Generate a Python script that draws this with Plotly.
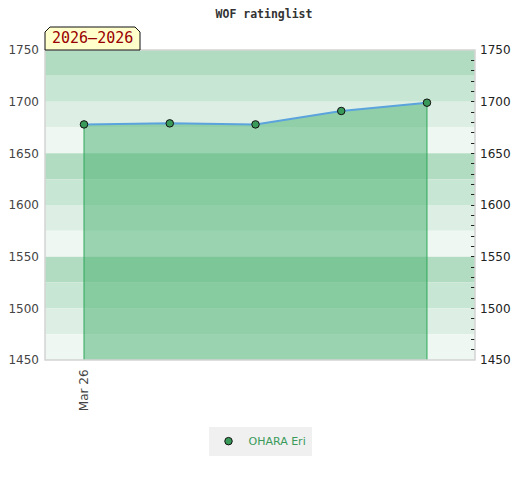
import plotly.graph_objects as go

# Rating history
dates = ["2026-03-26", "2026-03-27", "2026-03-28", "2026-03-29", "2026-03-30"]
ratings = [1678, 1679, 1678, 1691, 1699]
player = "OHARA Eri"
period = "2026–2026"
tick_labels = ["Mar 26"]

y_min, y_max = 1450, 1750
x_idx = list(range(len(dates)))

band_colors = ["#b2dcc2", "#c8e6d4", "#ddeee4", "#eff7f2"]

fig = go.Figure()

# Filled area under the rating line, down to the axis floor.
fig.add_trace(go.Scatter(
    x=[x_idx[0]] + x_idx + [x_idx[-1]],
    y=[y_min] + ratings + [y_min],
    fill="toself",
    fillcolor="rgba(70,176,109,0.5)",
    line=dict(width=0),
    mode="lines",
    hoverinfo="skip",
    showlegend=False,
))

# Vertical edges of the area.
for i in (0, -1):
    fig.add_trace(go.Scatter(
        x=[x_idx[i], x_idx[i]], y=[y_min, ratings[i]],
        mode="lines", line=dict(color="#2ea85a", width=1),
        hoverinfo="skip", showlegend=False,
    ))

# Rating line.
fig.add_trace(go.Scatter(
    x=x_idx, y=ratings, mode="lines",
    line=dict(color="#5ba3dc", width=2),
    hoverinfo="skip", showlegend=False,
))

# Markers (also the legend entry).
fig.add_trace(go.Scatter(
    x=x_idx, y=ratings, mode="markers", name=player,
    marker=dict(color="#3a9a5a", size=7.5, line=dict(color="#111111", width=1)),
))

# Invisible trace so the right axis is drawn.
fig.add_trace(go.Scatter(
    x=x_idx, y=ratings, yaxis="y2", mode="markers",
    marker=dict(opacity=0), hoverinfo="skip", showlegend=False,
))

# Alternating horizontal bands.
shapes = []
for k, lo in enumerate(range(y_max - 25, y_min - 1, -25)):
    shapes.append(dict(
        type="rect", xref="paper", yref="y", x0=0, x1=1, y0=lo, y1=lo + 25,
        fillcolor=band_colors[k % 4], line=dict(width=0), layer="below",
    ))

# Plot border.
shapes.append(dict(
    type="rect", xref="paper", yref="paper", x0=0, x1=1, y0=0, y1=1,
    line=dict(color="#d4d4d4", width=1.5), layer="above",
))

# Period badge with bevelled top corners.
bx1, by1, bev = 95 / 430, 1 + 23 / 310, 5 / 430
bev_y = 5 / 310
shapes.append(dict(
    type="path", xref="paper", yref="paper",
    path=(f"M 0 1 L 0 {by1 - bev_y} L {bev} {by1} L {bx1 - bev} {by1} "
          f"L {bx1} {by1 - bev_y} L {bx1} 1 Z"),
    fillcolor="#ffffcc", line=dict(color="#111111", width=1), layer="above",
))

# The page body adds an 8px offset, so the figure is 8px smaller.
fig.update_layout(
    width=512, height=472,
    margin=dict(l=37, r=45, t=42, b=120, autoexpand=False),
    paper_bgcolor="white",
    plot_bgcolor="white",
    title=dict(
        text="<b>WOF ratinglist</b>", x=0.5, xanchor="center",
        y=1 - 6 / 472, yanchor="middle", pad=dict(t=0),
        font=dict(family="DejaVu Sans Mono", size=11.5, color="#333333"),
    ),
    shapes=shapes,
    annotations=[dict(
        text=period, xref="paper", yref="paper", x=bx1 / 2, y=1 + 11.5 / 310,
        showarrow=False, xanchor="center", yanchor="middle",
        font=dict(family="DejaVu Sans Mono", size=15, color="#990000"),
    )],
    xaxis=dict(
        range=[-0.455, 4.56], tickvals=[0], ticktext=tick_labels,
        tickangle=-90, showgrid=False, zeroline=False, showline=False,
        automargin=False, ticklabelstandoff=6,
        tickfont=dict(family="DejaVu Sans", size=12, color="#444444"),
    ),
    yaxis=dict(
        range=[y_min, y_max], dtick=50, showgrid=False, zeroline=False,
        ticks="", automargin=False, ticklabelstandoff=5,
        tickfont=dict(family="DejaVu Sans", size=12, color="#444444"),
    ),
    yaxis2=dict(
        range=[y_min, y_max], dtick=50, overlaying="y", side="right",
        showgrid=False, zeroline=False, ticks="inside", ticklen=4,
        tickcolor="#222222", automargin=False, ticklabelstandoff=4,
        minor=dict(dtick=10, ticks="inside", ticklen=4, tickcolor="#222222"),
        tickfont=dict(family="DejaVu Sans", size=12, color="#222222"),
    ),
    legend=dict(
        orientation="h", x=0.5, xanchor="center", y=-0.215, yanchor="top",
        bgcolor="#f0f0f0", font=dict(family="DejaVu Sans", size=11, color="#3a9a5a"),
        itemwidth=30,
    ),
)

fig.write_html("out.html")
